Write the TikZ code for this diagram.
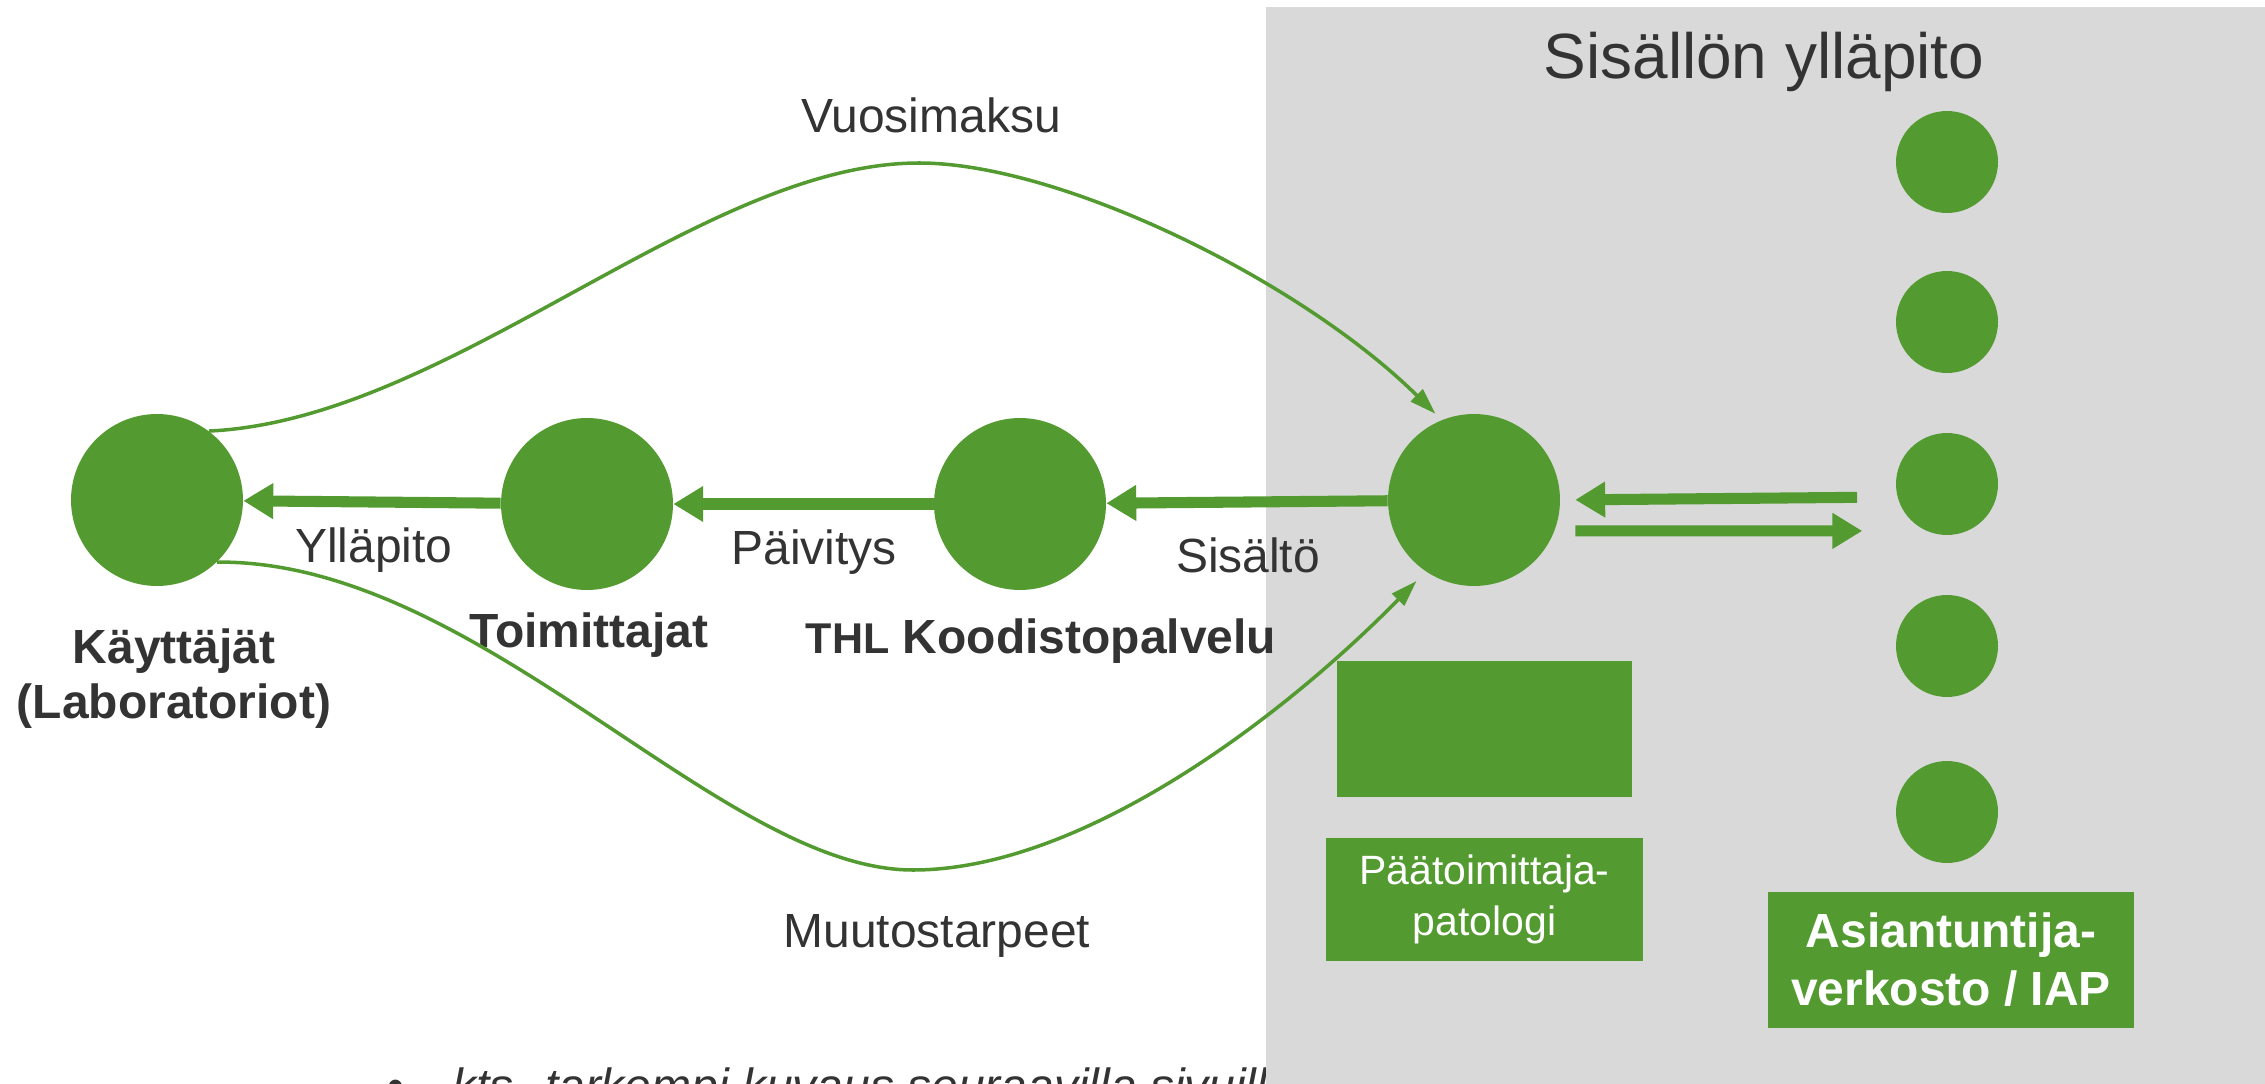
\documentclass[tikz,border=0pt]{standalone}
\usepackage{fontspec}
\setmainfont{Liberation Sans}
\usepackage{tikz}
\usetikzlibrary{arrows.meta}
\definecolor{leafgreen}{HTML}{539B30}
\definecolor{panelgray}{HTML}{D9D9D9}
\definecolor{inkgray}{HTML}{333333}
\newcommand{\canvasll}[0]{(0, 1084)}
\newcommand{\canvasur}[0]{(2265, 0)}
\newcommand{\panelll}[0]{(1266, 1084)}
\newcommand{\panelur}[0]{(2265, 7)}
\newcommand{\rowy}[0]{504}

\begin{document}
\begin{tikzpicture}[x=0.02cm, y=-0.02cm,
  hub/.style={circle, fill=leafgreen, minimum size=3.44cm, inner sep=0pt},
  expert/.style={circle, fill=leafgreen, minimum size=2.04cm, inner sep=0pt},
  greenbox/.style={rectangle, fill=leafgreen, inner sep=0pt, text=white, align=center},
  flow/.style={leafgreen, line width=6.3pt, -{Triangle[width=19.3pt,length=17pt]}},
  curvy/.style={leafgreen, line width=2pt, -{Triangle[width=9.5pt,length=15pt]}},
  lbl/.style={text=inkgray, inner sep=0pt, anchor=base, font=\fontsize{27.3}{31}\selectfont},
  boldlbl/.style={lbl, font=\bfseries\fontsize{27.3}{31.3}\selectfont, align=center}]
\useasboundingbox \canvasll{} rectangle \canvasur{};
\node[lbl, anchor=base west] (note) at (387,1102) {\textbullet\hspace{27.6pt}\textit{kts. tarkempi kuvaus seuraavilla sivuilla}};
\fill[panelgray] \panelll{} rectangle \panelur{};
\node[lbl, font=\fontsize{36.4}{40}\selectfont] (title) at (1764,79) {Sisällön ylläpito};

% main chain
\node[hub] (kay) at (157,500) {};
\node[hub] (toim) at (587,\rowy) {};
\node[hub] (thl) at (1020,\rowy) {};
\node[hub] (pat) at (1474,500) {};
\node[boldlbl, anchor=north] (kaylbl) at (174,628) {Käyttäjät\\(Laboratoriot)};
\node[boldlbl] (toimlbl) at (589,647) {Toimittajat};
\node[boldlbl] (thllbl) at (1041,653) {{\fontsize{24.5}{28}\selectfont THL} Koodistopalvelu};

% expert network
\foreach \i/\y in {1/162,2/322,3/484,4/646,5/812}
  \node[expert] (e\i) at (1947,\y) {};
\node[greenbox, minimum width=5.9cm, minimum height=2.72cm] (patbox) at (1484.5,729) {};
\node[greenbox, minimum width=6.34cm, minimum height=2.46cm, font=\fontsize{23.3}{29}\selectfont] (patlbl) at (1484.5,899.5) {Päätoimittaja-\\patologi};
\node[greenbox, minimum width=7.32cm, minimum height=2.72cm, font=\bfseries\fontsize{27.3}{33}\selectfont] (netlbl) at (1951,960) {Asiantuntija-\\verkosto / IAP};

% arrows
\draw[flow] (toim) -- (kay);
\draw[flow] (thl) -- (toim);
\draw[flow] (pat) -- (thl);
\draw[flow, shorten <=22pt, shorten >=8.5pt] ([yshift=-7.4pt]e3.west) -- (pat.east);
\draw[flow, shorten <=8.5pt, shorten >=19pt] ([yshift=-17.6pt]pat.east) -- ([yshift=-26.7pt]e3.west);
\node[lbl] (yllapito) at (374,562) {Ylläpito};
\node[lbl] (paivitys) at (814,564) {Päivitys};
\node[lbl] (sisalto) at (1248,572) {Sisältö};

% fee and feedback
\coordinate (feepeak) at (919,163);
\coordinate (needlow) at (913,870);
\draw[curvy, shorten >=5pt] (kay.53) .. controls (450,420) and (700,163) .. (feepeak) .. controls (1060,163) and (1300,280) .. (pat.112);
\draw[curvy, shorten >=7.5pt] (kay.-46) .. controls (480,560) and (720,870) .. (needlow) .. controls (1080,870) and (1280,720) .. (pat.236.5);
\node[lbl] (vuosimaksu) at (931,133) {Vuosimaksu};
\node[lbl] (muutos) at (937,947) {Muutostarpeet};
\end{tikzpicture}
\end{document}
